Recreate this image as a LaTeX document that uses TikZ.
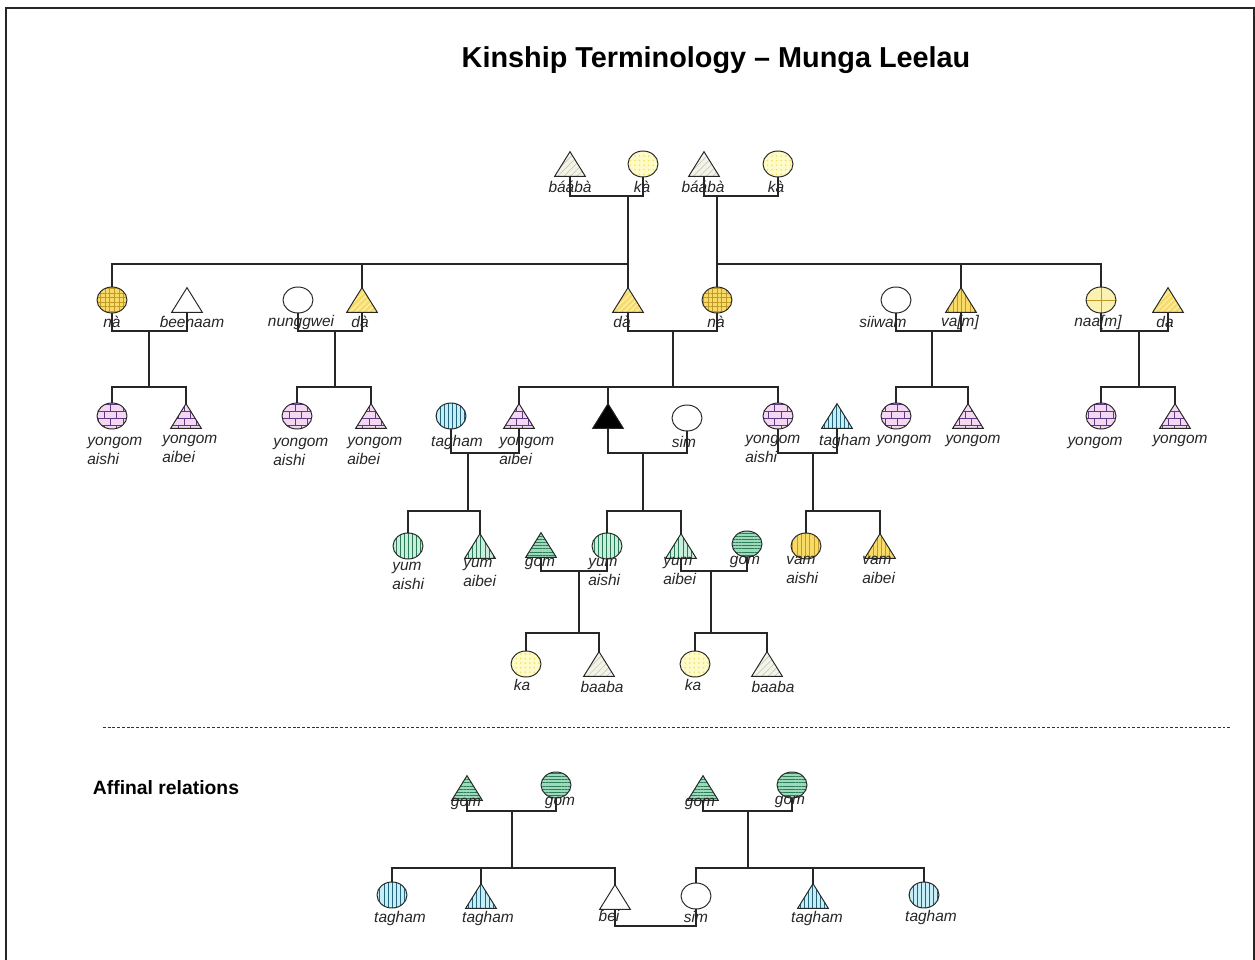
\documentclass[tikz,border=0pt]{standalone}
\usepackage{fontspec}
\setmainfont{Liberation Sans}
\usetikzlibrary{shapes.geometric,patterns,patterns.meta}
\pgfdeclarepatternformonly{kbricks}{\pgfpoint{-0.5pt}{-0.5pt}}{\pgfpoint{7.5pt}{8.5pt}}{\pgfpoint{7pt}{8pt}}{%
  \pgfsetlinewidth{0.5pt}%
  \pgfpathmoveto{\pgfpoint{0pt}{0pt}}\pgfpathlineto{\pgfpoint{7pt}{0pt}}%
  \pgfpathmoveto{\pgfpoint{0pt}{4pt}}\pgfpathlineto{\pgfpoint{7pt}{4pt}}%
  \pgfpathmoveto{\pgfpoint{0pt}{0pt}}\pgfpathlineto{\pgfpoint{0pt}{4pt}}%
  \pgfpathmoveto{\pgfpoint{3.5pt}{4pt}}\pgfpathlineto{\pgfpoint{3.5pt}{8pt}}%
  \pgfusepath{stroke}}
\definecolor{yel}{HTML}{F8DA66}
\definecolor{yelln}{HTML}{C09A28}
\definecolor{yellt}{HTML}{FCF0B0}
\definecolor{paleyel}{HTML}{FBF1B0}
\definecolor{kafill}{HTML}{FFFBC8}
\definecolor{kadot}{HTML}{F0E060}
\definecolor{bafill}{HTML}{F4F4E6}
\definecolor{brfill}{HTML}{F4D8F2}
\definecolor{brln}{HTML}{5E3A86}
\definecolor{cyfill}{HTML}{C6EEF8}
\definecolor{cyln}{HTML}{25657A}
\definecolor{grfill}{HTML}{C9EEDB}
\definecolor{grln}{HTML}{2B7A57}
\definecolor{gofill}{HTML}{9ED9BC}
\definecolor{goln}{HTML}{2A7E57}
\tikzset{
  shp/.style={draw=black!85, line width=0.55pt, inner sep=0pt},
  circ/.style={shp, ellipse, minimum width=0.6cm, minimum height=0.52cm},
  tri/.style={rectangle, inner sep=0pt, minimum width=0.6cm, minimum height=0.48cm,
    append after command={\pgfextra{\let\tn\tikzlastnode
      \path[shp,#1] (\tn.south west) -- (\tn.north) -- (\tn.south east) -- cycle;}}},
  tri/.default={fill=white},
  wht/.style={fill=white},
  blk/.style={fill=black},
  ygrid/.style={preaction={fill=yel}, pattern={Hatch[angle=0,distance=2.6pt,line width=0.3pt]}, pattern color=yelln},
  ydiag/.style={preaction={fill=yel}, pattern={Lines[angle=45,distance=2.4pt,line width=0.7pt]}, pattern color=yellt},
  yvert/.style={preaction={fill=yel}, pattern={Lines[angle=90,distance=2.4pt,line width=0.35pt]}, pattern color=yelln},
  ycross/.style={fill=paleyel, path picture={\draw[yelln,line width=0.4pt]
      (path picture bounding box.north) -- (path picture bounding box.south)
      (path picture bounding box.west) -- (path picture bounding box.east);}},
  kad/.style={preaction={fill=kafill}, pattern={Dots[distance=2.6pt,radius=0.5pt]}, pattern color=kadot},
  bab/.style={preaction={fill=bafill}, pattern={Lines[angle=45,distance=2.6pt,line width=0.3pt]}, pattern color=black!25},
  brick/.style={preaction={fill=brfill}, pattern=kbricks, pattern color=brln},
  cyv/.style={preaction={fill=cyfill}, pattern={Lines[angle=90,distance=2.3pt,line width=0.45pt]}, pattern color=cyln},
  grv/.style={preaction={fill=grfill}, pattern={Lines[angle=90,distance=2.3pt,line width=0.45pt]}, pattern color=grln},
  gom/.style={preaction={fill=gofill}, pattern={Lines[angle=0,distance=1.8pt,line width=0.45pt]}, pattern color=goln},
  lab/.style={font=\fontsize{8.8}{10.8}\selectfont\itshape, inner sep=0pt, align=left, text=black!85},
  conn/.style={draw=black!85, line width=0.7pt},
}
\begin{document}
\begin{tikzpicture}[x=0.02cm,y=-0.02cm]
\useasboundingbox (0,0) rectangle (1255,960);
\fill[white] (0,0) rectangle (1255,960);
\draw[line width=1pt, black!85] (6,960) -- (6,8) -- (1254,8) -- (1254,960);

\node[font=\fontsize{16.4}{19}\selectfont\bfseries, inner sep=0pt] (title) at (716,60) {Kinship Terminology – Munga Leelau};

% generation 1
\node[tri=bab] (P1) at (570,164) {};
\node[circ,kad] (P2) at (643,164) {};
\node[tri=bab] (P3) at (704,164) {};
\node[circ,kad] (P4) at (778,164) {};
% generation 2
\node[circ,ygrid] (A1) at (112,300) {};
\node[tri=wht] (A2) at (187,300) {};
\node[circ,wht] (B1) at (298,300) {};
\node[tri=ydiag] (B2) at (362,300) {};
\node[tri=ydiag] (C1) at (628,300) {};
\node[circ,ygrid] (C2) at (717,300) {};
\node[circ,wht] (D1) at (896,300) {};
\node[tri=yvert] (D2) at (961,300) {};
\node[circ,ycross] (E1) at (1101,300) {};
\node[tri=ydiag] (E2) at (1168,300) {};
% generation 3
\node[circ,brick] (F1) at (112,416) {};
\node[tri=brick] (F2) at (186,416) {};
\node[circ,brick] (G1) at (297,416) {};
\node[tri=brick] (G2) at (371,416) {};
\node[circ,cyv] (H1) at (451,416) {};
\node[tri=brick] (H2) at (519,416) {};
\node[tri=blk] (EGO) at (608,416) {};
\node[circ,wht] (S) at (687,418) {};
\node[circ,brick] (I1) at (778,416) {};
\node[tri=cyv] (I2) at (837,416) {};
\node[circ,brick] (J1) at (896,416) {};
\node[tri=brick] (J2) at (968,416) {};
\node[circ,brick] (K1) at (1101,416) {};
\node[tri=brick] (K2) at (1175,416) {};
% generation 4
\node[circ,grv] (L1) at (408,546) {};
\node[tri=grv] (L2) at (480,546) {};
\node[tri=gom] (M1) at (541,545) {};
\node[circ,grv] (M2) at (607,546) {};
\node[tri=grv] (N1) at (681,546) {};
\node[circ,gom] (N2) at (747,544) {};
\node[circ,yvert] (O1) at (806,546) {};
\node[tri=yvert] (O2) at (880,546) {};
% generation 5
\node[circ,kad] (Q1) at (526,664) {};
\node[tri=bab] (Q2) at (599,664) {};
\node[circ,kad] (R1) at (695,664) {};
\node[tri=bab] (R2) at (767,664) {};
% affinal
\node[tri=gom] (T1) at (467,788) {};
\node[circ,gom] (T2) at (556,785) {};
\node[circ,cyv] (U1) at (392,895) {};
\node[tri=cyv] (U2) at (481,896) {};
\node[tri=wht] (U3) at (615,897) {};
\node[tri=gom] (V1) at (703,788) {};
\node[circ,gom] (V2) at (792,785) {};
\node[circ,wht] (W1) at (696,896) {};
\node[tri=cyv] (W2) at (813,896) {};
\node[circ,cyv] (W3) at (924,895) {};

% labels
\node[lab] (lP1) at (570,187) {báábà};
\node[lab] (lP2) at (642,187) {kà};
\node[lab] (lP3) at (703,187) {báábà};
\node[lab] (lP4) at (776,187) {kà};
\node[lab] (lA1) at (112,322) {nà};
\node[lab] (lA2) at (192,322) {ɓeenaam};
\node[lab] (lB1) at (301,322) {nunggwei};
\node[lab] (lB2) at (360,322) {dà};
\node[lab] (lC1) at (622,322) {dà};
\node[lab] (lC2) at (716,322) {nà};
\node[lab] (lD1) at (883,322) {siiwam};
\node[lab] (lD2) at (960,322) {va[m]};
\node[lab] (lE1) at (1098,322) {naa[m]};
\node[lab] (lE2) at (1165,322) {da};
\node[lab,anchor=west] (lF1) at (87,451) {yongom\\aishi};
\node[lab,anchor=west] (lF2) at (162,449) {yongom\\aibei};
\node[lab,anchor=west] (lG1) at (273,452) {yongom\\aishi};
\node[lab,anchor=west] (lG2) at (347,451) {yongom\\aibei};
\node[lab] (lH1) at (457,442) {tagham};
\node[lab,anchor=west] (lH2) at (499,451) {yongom\\aibei};
\node[lab] (lS) at (684,442) {sim};
\node[lab,anchor=west] (lI1) at (745,449) {yongom\\aishi};
\node[lab] (lI2) at (845,441) {tagham};
\node[lab] (lJ1) at (904,441) {yongom};
\node[lab] (lJ2) at (973,441) {yongom};
\node[lab] (lK1) at (1095,443) {yongom};
\node[lab] (lK2) at (1180,441) {yongom};
\node[lab,anchor=west] (lL1) at (392,576) {yum\\aishi};
\node[lab,anchor=west] (lL2) at (463,573) {yum\\aibei};
\node[lab] (lM1) at (540,564) {gom};
\node[lab,anchor=west] (lM2) at (588,572) {yum\\aishi};
\node[lab,anchor=west] (lN1) at (663,571) {yum\\aibei};
\node[lab] (lN2) at (745,562) {gom};
\node[lab,anchor=west] (lO1) at (786,570) {vam\\aishi};
\node[lab,anchor=west] (lO2) at (862,570) {vam\\aibei};
\node[lab] (lQ1) at (522,685) {ka};
\node[lab] (lQ2) at (602,687) {baaba};
\node[lab] (lR1) at (693,685) {ka};
\node[lab] (lR2) at (773,687) {baaba};
\node[lab] (lT1) at (466,804) {gom};
\node[lab] (lT2) at (560,803) {gom};
\node[lab] (lV1) at (700,804) {gom};
\node[lab] (lV2) at (790,802) {gom};
\node[lab] (lU1) at (400,918) {tagham};
\node[lab] (lU2) at (488,918) {tagham};
\node[lab] (lU3) at (609,916) {ɓei};
\node[lab] (lW1) at (696,917) {sim};
\node[lab] (lW2) at (817,918) {tagham};
\node[lab] (lW3) at (931,917) {tagham};

% separator and section title
\coordinate (dl) at (103,727);
\coordinate (dr) at (1232,727);
\draw[black!80, line width=0.5pt, dash pattern=on 1.6pt off 1.1pt] (dl) -- (dr);
\node[font=\fontsize{11}{13}\selectfont\bfseries, inner sep=0pt] (aff) at (166,788) {Affinal relations};

% junction coordinates
\coordinate (m1) at (628,196); \coordinate (m2) at (717,196);
\coordinate (g1) at (628,264); \coordinate (g2) at (717,264);
\coordinate (mA) at (149,331); \coordinate (sA) at (149,387);
\coordinate (mB) at (335,331); \coordinate (sB) at (335,387);
\coordinate (mC) at (673,331); \coordinate (sC) at (673,387);
\coordinate (mD) at (932,331); \coordinate (sD) at (932,387);
\coordinate (mE) at (1139,331); \coordinate (sE) at (1139,387);
\coordinate (mH) at (468,453); \coordinate (sH) at (468,511);
\coordinate (mS) at (643,453); \coordinate (sS) at (643,511);
\coordinate (mI) at (813,453); \coordinate (sI) at (813,511);
\coordinate (mM) at (579,571); \coordinate (sM) at (579,633);
\coordinate (mN) at (711,571); \coordinate (sN) at (711,633);
\coordinate (mT) at (512,811); \coordinate (sT) at (512,868);
\coordinate (mV) at (748,811); \coordinate (sV) at (748,868);
\coordinate (mW) at (655,926);

% connectors
\draw[conn] (P1.south) |- (m1) -| (P2.south);
\draw[conn] (P3.south) |- (m2) -| (P4.south);
\draw[conn] (m1) -- (C1.north);
\draw[conn] (m2) -- (C2.north);
\draw[conn] (A1.north) |- (g1);
\draw[conn] (B2.north) -- (B2.north |- g1);
\draw[conn] (g2) -| (E1.north);
\draw[conn] (D2.north) -- (D2.north |- g2);

\draw[conn] (A1.south) |- (mA) -| (A2.south);
\draw[conn] (mA) -- (sA);
\draw[conn] (F1.north) |- (sA) -| (F2.north);
\draw[conn] (B1.south) |- (mB) -| (B2.south);
\draw[conn] (mB) -- (sB);
\draw[conn] (G1.north) |- (sB) -| (G2.north);
\draw[conn] (C1.south) |- (mC) -| (C2.south);
\draw[conn] (mC) -- (sC);
\draw[conn] (H2.north) |- (sC) -| (I1.north);
\draw[conn] (EGO.north) -- (EGO.north |- sC);
\draw[conn] (D1.south) |- (mD) -| (D2.south);
\draw[conn] (mD) -- (sD);
\draw[conn] (J1.north) |- (sD) -| (J2.north);
\draw[conn] (E1.south) |- (mE) -| (E2.south);
\draw[conn] (mE) -- (sE);
\draw[conn] (K1.north) |- (sE) -| (K2.north);

\draw[conn] (H1.south) |- (mH) -| (H2.south);
\draw[conn] (mH) -- (sH);
\draw[conn] (L1.north) |- (sH) -| (L2.north);
\draw[conn] (EGO.south) |- (mS) -| (S.south);
\draw[conn] (mS) -- (sS);
\draw[conn] (M2.north) |- (sS) -| (N1.north);
\draw[conn] (I1.south) |- (mI) -| (I2.south);
\draw[conn] (mI) -- (sI);
\draw[conn] (O1.north) |- (sI) -| (O2.north);

\draw[conn] (M1.south) |- (mM) -| (M2.south);
\draw[conn] (mM) -- (sM);
\draw[conn] (Q1.north) |- (sM) -| (Q2.north);
\draw[conn] (N1.south) |- (mN) -| (N2.south);
\draw[conn] (mN) -- (sN);
\draw[conn] (R1.north) |- (sN) -| (R2.north);

\draw[conn] (T1.south) |- (mT) -| (T2.south);
\draw[conn] (mT) -- (sT);
\draw[conn] (U1.north) |- (sT) -| (U3.north);
\draw[conn] (U2.north) -- (U2.north |- sT);
\draw[conn] (V1.south) |- (mV) -| (V2.south);
\draw[conn] (mV) -- (sV);
\draw[conn] (W1.north) |- (sV) -| (W3.north);
\draw[conn] (W2.north) -- (W2.north |- sV);
\draw[conn] (U3.south) |- (mW) -| (W1.south);
\end{tikzpicture}
\end{document}
